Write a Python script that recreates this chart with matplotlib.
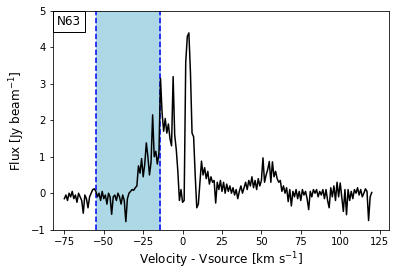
import numpy as np
import matplotlib
matplotlib.use('Agg')
import matplotlib.pyplot as plt

# Spectrum at ~1 km/s steps
velocity = np.arange(-75, 121, 1)
flux = [
    -0.15, -0.05, -0.2, 0.0, -0.1, 0.05, -0.15, -0.05, -0.25, 0.0,    # -75..-66
    -0.1, -0.2, -0.55, -0.05, -0.15, -0.4, -0.1, 0.0, 0.1, 0.12,      # -65..-56
    0.05, -0.1, 0.0, -0.2, 0.05, -0.15, -0.05, -0.3, 0.0, -0.1,       # -55..-46
    -0.58, -0.1, -0.05, -0.2, 0.0, -0.1, -0.3, -0.05, -0.2, -0.78,    # -45..-36
    -0.15, 0.0, 0.05, 0.1, 0.08, 0.15, 0.2, 0.75, 0.55, 0.95,         # -35..-26
    0.45, 0.8, 1.38, 1.0, 0.5, 0.85, 2.15, 1.0, 1.15, 0.8,            # -25..-16
    1.1, 3.15, 2.2, 1.7, 2.05, 1.65, 1.9, 1.5, 1.3, 3.2,              # -15..-6
    1.6, 1.2, 0.6, -0.2, 0.1, -0.25, -0.2, 3.6, 4.3, 4.4,             # -5..4
    3.3, 1.65, 1.55, 0.5, -0.4, -0.3, 0.3, 0.88, 0.5, 0.7,            # 5..14
    0.4, 0.6, 0.25, 0.45, 0.3, 0.35, -0.27, 0.3, 0.1, 0.35,           # 15..24
    0.05, 0.3, 0.0, 0.25, 0.05, 0.2, 0.0, 0.15, -0.05, 0.1,           # 25..34
    -0.15, 0.05, 0.2, 0.0, 0.15, 0.3, 0.1, 0.35, 0.2, 0.45,           # 35..44
    0.15, 0.35, 0.1, 0.4, 0.2, 0.35, 0.97, 0.3, 0.5, 0.65,            # 45..54
    0.87, 0.3, 0.86, 0.45, 0.6, 0.4, 0.3, 0.35, 0.05, 0.2,            # 55..64
    0.0, 0.15, -0.23, 0.1, -0.35, 0.05, -0.1, 0.1, -0.15, 0.05,       # 65..74
    -0.2, 0.1, -0.05, 0.05, -0.15, -0.45, 0.05, -0.1, 0.1, 0.0,       # 75..84
    0.1, -0.1, 0.05, -0.05, 0.1, -0.15, 0.1, -0.2, -0.4, 0.15,        # 85..94
    -0.1, 0.2, -0.2, 0.3, -0.1, 0.28, -0.1, -0.5, 0.1, -0.59,         # 95..104
    0.1, -0.2, 0.05, -0.15, 0.1, 0.0, 0.15, -0.05, 0.1, -0.1,         # 105..114
    0.0, 0.12, 0.05, -0.75, -0.1, 0.02,                               # 115..120
]

# Velocity window marked on the plot
window_lo = -55
window_hi = -14.5
source_name = 'N63'

fig, ax = plt.subplots(figsize=(395 / 72, 276 / 72), dpi=72)
fig.subplots_adjust(left=0.133, right=0.985, top=0.96, bottom=0.168)

ax.axvspan(window_lo, window_hi, color='lightblue', zorder=0)
ax.axvline(window_lo, color='blue', linestyle='--', linewidth=1.5)
ax.axvline(window_hi, color='blue', linestyle='--', linewidth=1.5)
ax.plot(velocity, flux, color='black', linewidth=1.5)

ax.set_xlim(-82.5, 131)
ax.set_ylim(-1, 5)
ax.set_xticks([-75, -50, -25, 0, 25, 50, 75, 100, 125])
ax.tick_params(labelsize=10)

ax.set_xlabel('Velocity - Vsource [km s$^{-1}$]', fontsize=12)
ax.set_ylabel('Flux [Jy beam$^{-1}$]', fontsize=12)

# label box in the top-left corner
ax.annotate(source_name, xy=(0, 1), xycoords='axes fraction',
            xytext=(4, -4), textcoords='offset points',
            ha='left', va='top', fontsize=12,
            bbox=dict(boxstyle='square,pad=0.33', facecolor='white', edgecolor='black'))

fig.savefig('out.png', dpi=72)
